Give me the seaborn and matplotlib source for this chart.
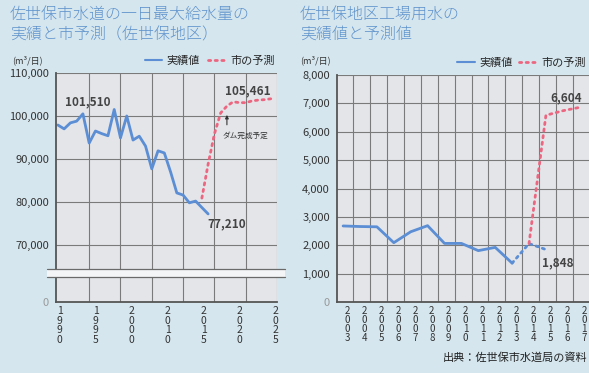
import numpy as np
import pandas as pd
import matplotlib
matplotlib.use("Agg")
import matplotlib.pyplot as plt
from matplotlib.lines import Line2D
from matplotlib.patches import Rectangle
import seaborn as sns

# Left chart: daily max water supply (m3/day)
supply_years = list(range(1990, 2015))
supply_actual = [97900, 97000, 98400, 98800, 100500, 93700, 96500, 95900, 95400, 101510,
                 94900, 100000, 94400, 95300, 93000, 87700, 91900, 91400, 87000, 82100,
                 81600, 79800, 80200, 78700, 77210]
forecast_years = list(range(2013, 2025))
supply_forecast = [80900, 88800, 95800, 100700, 102300, 103300, 103100, 103100,
                   103500, 103700, 103800, 104000]
left_xlabels = ["1990", "1995", "2000", "2010", "2015", "2020", "2025"]
left_yticks = [70000, 80000, 90000, 100000, 110000]

# Right chart: industrial water (m3/day)
ind_years = list(range(2003, 2014))
ind_actual = [2680, 2660, 2650, 2090, 2475, 2690, 2065, 2065, 1810, 1925, 1370]
ind_recent_years = [2013, 2014, 2015]
ind_recent = [1370, 2060, 1848]
ind_forecast_years = [2014, 2015, 2016, 2017]
ind_forecast = [2060, 6580, 6740, 6860]
right_xlabels = ["2003", "2004", "2005", "2006", "2007", "2008", "2009", "2010",
                 "2011", "2012", "2013", "2014", "2015", "2016", "2017"]
right_yticks = [0, 1000, 2000, 3000, 4000, 5000, 6000, 7000, 8000]

# Colours
BG = "#d5e6ee"
PANEL = "#e3e5e9"
BLUE = "#5b8ed4"
RED = "#ec6680"
GRID = "#7a7a7a"
TXT = "#333333"
TITLE = "#5f93cc"

sns.set_style("white")
plt.rcParams['font.family'] = ['Noto Sans CJK JP', 'DejaVu Sans']

W, H = 589, 373
fig = plt.figure(figsize=(W / 100, H / 100), dpi=100, facecolor=BG)

def box(x0, y0, x1, y1):
    # pixel box -> figure fraction
    return [x0 / W, 1 - y1 / H, (x1 - x0) / W, (y1 - y0) / H]

ax_top = fig.add_axes(box(56, 73, 277, 269))
ax_bot = fig.add_axes(box(56, 277, 277, 302))
ax_r = fig.add_axes(box(337, 75, 600, 302))

dotted = dict(linestyle=(0, (0.8, 1.6)), dash_capstyle="round", linewidth=2.0)

# ---- left chart ----
df_act = pd.DataFrame({"year": supply_years, "value": supply_actual})
df_fc = pd.DataFrame({"year": forecast_years, "value": supply_forecast})
sns.lineplot(data=df_act, x="year", y="value", ax=ax_top, color=BLUE, linewidth=2.0)
sns.lineplot(data=df_fc, x="year", y="value", ax=ax_top, color=RED, **dotted)

for ax in (ax_top, ax_bot):
    ax.set_facecolor(PANEL)
    ax.set_xlim(1989.7, 2025.0)
    ax.set_xticks([1995, 2000, 2005, 2010, 2015, 2020, 2025], minor=True)
    ax.grid(which="minor", axis="x", color=GRID, linewidth=0.8)
    ax.grid(which="major", axis="x", visible=False)
    ax.tick_params(which="both", length=0)
    ax.set_xlabel("")
    ax.set_ylabel("")
    for s in ["top", "right"]:
        ax.spines[s].set_visible(False)
    ax.spines["left"].set_color("#555555")
    ax.spines["left"].set_linewidth(1.3)
    ax.set_axisbelow(True)

ax_top.set_ylim(64400, 110000)
ax_top.set_yticks(left_yticks, labels=[f"{v:,}" for v in left_yticks])
ax_top.grid(which="major", axis="y", color=GRID, linewidth=0.8)
ax_top.set_xticks([])
ax_top.spines["bottom"].set_visible(False)
ax_top.tick_params(axis="y", labelsize=8, labelcolor=TXT, pad=5)

ax_bot.set_ylim(0, 5800)
ax_bot.set_yticks([0], labels=["0"])
ax_bot.tick_params(axis="y", labelsize=8, labelcolor="#999999", pad=5)
ax_bot.spines["bottom"].set_color("#555555")
ax_bot.spines["bottom"].set_linewidth(1.3)
ax_bot.set_xticks(np.linspace(1990.3, 2024.8, 7),
                  labels=["\n".join(s) for s in left_xlabels])
ax_bot.tick_params(axis="x", labelsize=7.5, labelcolor=TXT, pad=3)
for t in ax_bot.get_xticklabels():
    t.set_linespacing(0.95)

# axis break band
fig.add_artist(Rectangle((47 / W, 1 - 277 / H), 238 / W, 8 / H, transform=fig.transFigure,
                         facecolor="#f3f5f7", edgecolor="none"))
for yy in (269, 277):
    fig.add_artist(Line2D([47 / W, 285 / W], [1 - yy / H, 1 - yy / H],
                          transform=fig.transFigure, color="#6a6a6a", linewidth=0.9))

ax_top.text(1994.8, 103300, "101,510", ha="center", va="center", fontsize=8.5,
            fontweight="bold", color="#444444")
ax_top.text(2020.4, 105800, "105,461", ha="center", va="center", fontsize=8.5,
            fontweight="bold", color="#444444")
ax_top.text(2016.9, 74900, "77,210", ha="center", va="center", fontsize=8.5,
            fontweight="bold", color="#444444")
ax_top.annotate("", xy=(2017.0, 100900), xytext=(2017.0, 97300),
                arrowprops=dict(arrowstyle="-|>", color="#333333", lw=0.8, mutation_scale=5))
ax_top.text(2019.9, 95300, "ダム完成予定", ha="center", va="center", fontsize=5.5, color=TXT)

handles = [Line2D([], [], color=BLUE, linewidth=1.5),
           Line2D([], [], color=RED, linestyle=(0, (0.8, 1.6)), linewidth=2.0,
                  dash_capstyle="round")]
ax_top.legend(handles, ["実績値", "市の予測"], loc="lower right", bbox_to_anchor=(1.02, 1.0),
              ncol=2, frameon=False, fontsize=8, handlelength=1.6, handletextpad=0.4,
              columnspacing=0.7, borderaxespad=0.2)

# ---- right chart ----
df_ind = pd.DataFrame({"year": ind_years, "value": ind_actual})
df_rec = pd.DataFrame({"year": ind_recent_years, "value": ind_recent})
df_ifc = pd.DataFrame({"year": ind_forecast_years, "value": ind_forecast})
sns.lineplot(data=df_ind, x="year", y="value", ax=ax_r, color=BLUE, linewidth=2.0)
sns.lineplot(data=df_rec, x="year", y="value", ax=ax_r, color=BLUE, **dotted)
sns.lineplot(data=df_ifc, x="year", y="value", ax=ax_r, color=RED, **dotted)

ax_r.set_facecolor(PANEL)
ax_r.set_xlim(2002.64, 2018.2)
ax_r.set_ylim(0, 8000)
ax_r.set_xticks([y + 0.6 for y in range(2003, 2018)], minor=True)
ax_r.set_xticks([y + 0.25 for y in range(2003, 2018)],
                labels=["\n".join(s) for s in right_xlabels])
ax_r.set_yticks(right_yticks, labels=[f"{v:,}" for v in right_yticks])
ax_r.grid(which="minor", axis="x", color=GRID, linewidth=0.8)
ax_r.grid(which="major", axis="x", visible=False)
ax_r.grid(which="major", axis="y", color=GRID, linewidth=0.8)
ax_r.set_axisbelow(True)
ax_r.tick_params(which="both", length=0)
ax_r.tick_params(axis="y", labelsize=8, labelcolor=TXT, pad=5)
ax_r.tick_params(axis="x", labelsize=7, labelcolor=TXT, pad=3)
for t in ax_r.get_xticklabels():
    t.set_linespacing(0.85)
ax_r.get_yticklabels()[0].set_color("#999999")
ax_r.set_xlabel("")
ax_r.set_ylabel("")
for s in ["top", "right"]:
    ax_r.spines[s].set_visible(False)
for s in ["left", "bottom"]:
    ax_r.spines[s].set_color("#555555")
    ax_r.spines[s].set_linewidth(1.3)

ax_r.text(2016.2, 7180, "6,604", ha="center", va="center", fontsize=8.5,
          fontweight="bold", color="#444444")
ax_r.text(2015.7, 1370, "1,848", ha="center", va="center", fontsize=8.5,
          fontweight="bold", color="#444444")
ax_r.legend(handles, ["実績値", "市の予測"], loc="lower left", bbox_to_anchor=(0.43, 1.0),
            ncol=2, frameon=False, fontsize=8, handlelength=1.6, handletextpad=0.4,
            columnspacing=0.6, borderaxespad=0.2)

# ---- figure texts ----
fig.text(10 / W, 1 - 6 / H, "佐世保市水道の一日最大給水量の\n実績と市予測（佐世保地区）",
         ha="left", va="top", fontsize=11.5, color=TITLE, linespacing=1.25, fontweight="light")
fig.text(300 / W, 1 - 6 / H, "佐世保地区工場用水の\n実績値と予測値",
         ha="left", va="top", fontsize=11.5, color=TITLE, linespacing=1.25, fontweight="light")
fig.text(12 / W, 1 - 60 / H, "(m³/日)", ha="left", va="center", fontsize=6.5, color=TXT)
fig.text(300 / W, 1 - 60 / H, "(m³/日)", ha="left", va="center", fontsize=6.5, color=TXT)
fig.text(587 / W, 1 - 358 / H, "出典：佐世保市水道局の資料", ha="right", va="center",
         fontsize=8, color="#222222")

fig.savefig("out.png", dpi=100, facecolor=BG)
